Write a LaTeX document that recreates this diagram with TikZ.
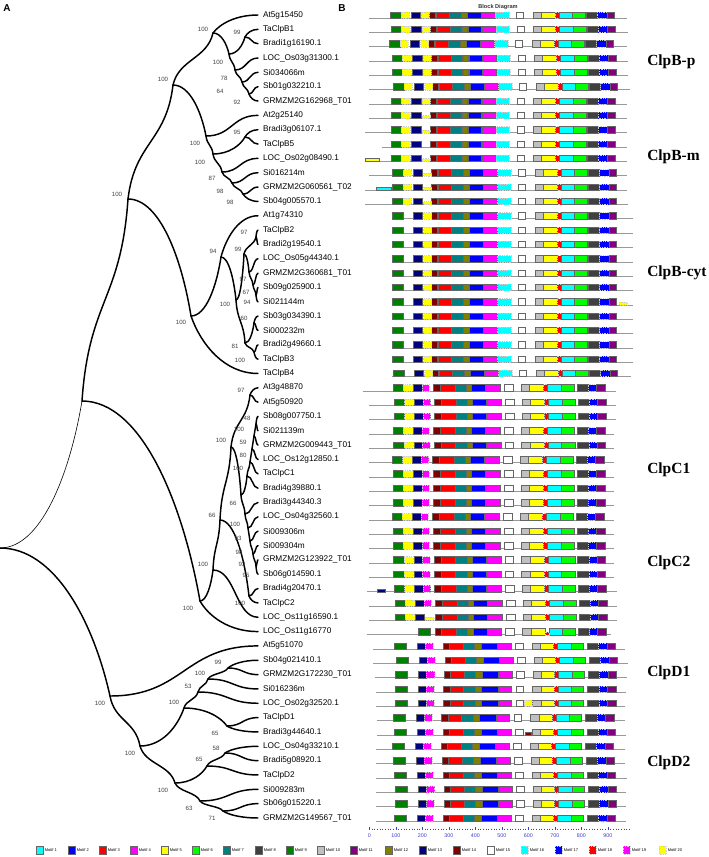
\documentclass[tikz,border=0pt]{standalone}
\usepackage{fontspec}
\setmainfont{Liberation Sans}
\newfontfamily\cladefont{Liberation Serif}
\usepackage{xcolor}
\usetikzlibrary{calc}

% Motif colours
\definecolor{mc1}{HTML}{00FFFF}
\definecolor{mc2}{HTML}{0000FF}
\definecolor{mc3}{HTML}{FF0000}
\definecolor{mc4}{HTML}{FF00FF}
\definecolor{mc5}{HTML}{FFFF00}
\definecolor{mc6}{HTML}{00FF00}
\definecolor{mc7}{HTML}{008080}
\definecolor{mc8}{HTML}{404040}
\definecolor{mc9}{HTML}{008000}
\definecolor{mc10}{HTML}{C0C0C0}
\definecolor{mc11}{HTML}{800080}
\definecolor{mc12}{HTML}{808000}
\definecolor{mc13}{HTML}{000080}
\definecolor{mc14}{HTML}{800000}
\definecolor{axblue}{HTML}{3C3CD0}

\tikzset{
  branch/.style={line width=1.1pt, line cap=round},
  leaf/.style={anchor=west, inner xsep=3.6pt, inner ysep=0pt, font=\fontsize{6.2}{7}\selectfont},
  boot/.style={inner sep=0pt, text=black!75, font=\fontsize{4.6}{5}\selectfont},
  panel/.style={inner sep=0pt, font=\fontsize{7.5}{8}\selectfont\bfseries},
  clade/.style={anchor=west, inner sep=0pt, font=\cladefont\bfseries\fontsize{11.6}{13}\selectfont},
  title/.style={inner sep=0pt, text=black!80, font=\fontsize{4.2}{5}\selectfont\bfseries},
  backbone/.style={draw=black!40, line width=0.7pt},
  mblock/.style={draw=black!60, line width=0.3pt},
  mdot/.style={draw=black!20, densely dotted, line width=0.3pt},
  mot1/.style={mblock, fill=mc1},   mot2/.style={mblock, fill=mc2},
  mot3/.style={mblock, fill=mc3},   mot4/.style={mblock, fill=mc4},
  mot5/.style={mblock, fill=mc5},   mot6/.style={mblock, fill=mc6},
  mot7/.style={mblock, fill=mc7},   mot8/.style={mblock, fill=mc8},
  mot9/.style={mblock, fill=mc9},   mot10/.style={mblock, fill=mc10},
  mot11/.style={mblock, fill=mc11}, mot12/.style={mblock, fill=mc12},
  mot13/.style={mblock, fill=mc13}, mot14/.style={mblock, fill=mc14},
  mot15/.style={mblock, fill=white},
  mot16/.style={mdot, fill=mc1},    mot17/.style={mdot, fill=mc2},
  mot18/.style={mdot, fill=mc3},    mot19/.style={mdot, fill=mc4},
  mot20/.style={mdot, fill=mc5},
  axtick/.style={draw=axblue, line width=0.3pt},
  axlabel/.style={inner sep=0pt, text=axblue, font=\fontsize{4}{5}\selectfont},
  legtext/.style={anchor=west, inner sep=0pt, font=\fontsize{3}{4}\selectfont}
}

% curved branch: #2 steep start, #3 steep end (0 = horizontal)
\newcommand{\tbranch}[5][]{%
  \draw[branch,#1] let \p1=(#4), \p2=(#5) in (\p1)
    .. controls ({\x1+(0.5-0.35*#2)*(\x2-\x1)},{\y1+0.5*#2*(\y2-\y1)})
    and ({\x2-(0.5-0.35*#3)*(\x2-\x1)},{\y2-0.5*#3*(\y2-\y1)}) .. (\p2);}

% motif rows
\newcommand{\mblocks}[3]{%
  \pgfmathsetmacro{\ry}{15+14.339*#1}
  \foreach \mi/\xa/\xb in #3 {\draw[mot\mi] ({\xa+(#2)},\ry-3.2) rectangle ({\xb+(#2)},\ry+3.2);}}
\newcommand{\mrow}[5]{%
  \pgfmathsetmacro{\ry}{15+14.339*#1}
  \draw[backbone] (#3,\ry+3.2) -- (#4,\ry+3.2);
  \mblocks{#1}{#2}{#5}}
\newcommand{\mhalf}[5]{%
  \pgfmathsetmacro{\ry}{15+14.339*#1}
  \draw[mot#3] ({#4+(#2)},\ry+0.2) rectangle ({#5+(#2)},\ry+3.2);}

% templates
\def\coreB{9/390.0/400.7, 13/410.7/420.0, 14/429.3/435.0, 3/436.0/449.3, 7/449.3/460.7, 12/461.3/466.7, 2/467.3/480.7, 4/481.3/494.7, 16/495.3/508.7, 15/516.0/523.3, 10/532.7/540.7, 5/540.7/554.7, 18/554.7/558.7, 1/558.7/572.0, 6/572.0/585.3, 8/586.0/597.3, 17/597.3/606.7, 11/606.7/614.0}
\def\yyB{20/400.7/409.0, 20/421.3/429.3}
\def\yaB{20/400.7/409.0}
\def\ybB{20/421.3/429.3}
\def\allC{9/392.7/403.3, 20/403.3/412.7, 13/413.3/421.7, 19/421.7/429.3, 14/433.3/440.0, 3/440.0/454.7, 7/454.7/466.0, 12/466.0/471.3, 2/471.3/485.3, 4/485.3/500.0, 15/504.0/512.7, 10/520.7/529.3, 5/529.3/543.3, 18/543.3/547.3, 1/547.3/560.7, 6/560.7/574.0, 8/576.7/588.0, 17/588.0/596.0, 11/596.0/604.7}
\def\coreC{14/433.3/440.0, 3/440.0/454.7, 7/454.7/466.0, 12/466.0/471.3, 2/471.3/485.3, 4/485.3/500.0, 15/504.0/512.7, 10/520.7/529.3, 5/529.3/543.3, 18/543.3/547.3, 1/547.3/560.7, 6/560.7/574.0, 8/576.7/588.0, 17/588.0/596.0, 11/596.0/604.7}
\def\coreD{9/394.0/406.0, 13/417.3/425.0, 19/425.0/433.3, 14/442.7/449.3, 3/449.3/462.7, 7/462.7/474.0, 12/474.0/480.7, 2/480.7/497.3, 4/497.3/510.7, 15/515.3/522.7, 10/531.7/540.0, 5/540.0/553.3, 18/553.3/557.3, 1/557.3/570.7, 6/570.7/582.7, 8/586.7/598.0, 17/598.0/606.7, 11/606.7/615.0}

\begin{document}
\begin{tikzpicture}[x=0.75pt,y=-0.75pt]
\useasboundingbox (0,0) rectangle (708,857);

% Panel letters
\node[panel] (pA) at (7,8) {A};
\node[panel] (pB) at (342,8) {B};

% Tree nodes
\foreach \nm/\cx/\cy in {R/0/548, X/82/401, B0/128/199, P0/173/85,
    A1/213/33, A2/229/54, B99/245/37, A78/235/70, A64/242/82, A92/249/94,
    M1/206/136, M2/213/154, M95/245/137, M87/222/172, M98a/232/183, M98b/243/194,
    C0/191/316, C94/221/257, C100b/236/300, C99/244/254, C97a/256/237, C97b/249/272,
    C67/253/285, C94b/256/295, C81/245/343, C60/254/323, C100c/254/352,
    K0/200/601, K1/213/570, K2/220/520, K3/231/447, K97/250/395, K4/241/495,
    N5/247/476, N4/250/462, N3/252/449, N2/254/436, N1/256/424,
    Q5/245/514, Q4/248/528, Q3/250/541, Q2/253/554, Q1/256/566, K100c/249/596,
    D0/110/696, D1/140/746, D2/184/708, D53/198/692, D100/208/679, D99/228/668,
    D65a/227/726, D3/175/783, D65b/207/766, D58/225/753, D63/200/801, D71/223/811}
  {\coordinate (\nm) at (\cx,\cy);}
\foreach \i in {0,...,56} {\coordinate (l\i) at (258,{15+14.339*\i});}

% Branches
\tbranch[line width=0.45pt]{0}{1}{R}{X}
\foreach \s/\e/\pa/\ch in {0/1/R/D0, 1/1/X/B0, 0/1/X/K0, 1/1/B0/P0, 0/1/B0/C0,
    1/1/P0/A1, 0/1/P0/M1, 1/0/A1/l0, 0/1/A1/A2, 0/1/A2/B99, 1/1/A2/A78,
    1/0/B99/l1, 0/0/B99/l2, 0/0/A78/l3, 1/1/A78/A64, 0/0/A64/l4, 1/1/A64/A92,
    0/0/A92/l5, 1/0/A92/l6,
    0/0/M1/l7, 1/1/M1/M2, 0/1/M2/M95, 1/1/M2/M87, 1/0/M95/l8, 0/0/M95/l9,
    0/0/M87/l10, 1/1/M87/M98a, 0/0/M98a/l11, 1/1/M98a/M98b, 0/0/M98b/l12, 1/0/M98b/l13,
    0/1/C0/C94, 1/0/C0/l25, 1/0/C94/l14, 0/1/C94/C100b, 0/1/C100b/C99, 1/1/C100b/C81,
    1/1/C99/C97a, 0/1/C99/C97b, 1/0/C97a/l15, 0/0/C97a/l16, 0/0/C97b/l17, 1/1/C97b/C67,
    0/0/C67/l18, 1/1/C67/C94b, 0/0/C94b/l19, 1/0/C94b/l20, 0/1/C81/C60, 1/1/C81/C100c,
    1/0/C60/l21, 0/0/C60/l22, 0/0/C100c/l23, 1/0/C100c/l24,
    0/1/K0/K1, 1/0/K0/l43, 1/1/K1/K2, 0/0/K1/l42, 1/1/K2/K3, 0/1/K2/K100c,
    1/1/K3/K97, 0/1/K3/K4, 1/0/K97/l26, 0/0/K97/l27, 0/1/K4/N5, 1/1/K4/Q5,
    1/1/N5/N4, 0/0/N5/l33, 1/1/N4/N3, 0/0/N4/l32, 1/1/N3/N2, 0/0/N3/l31,
    1/1/N2/N1, 0/0/N2/l30, 1/0/N1/l28, 0/0/N1/l29,
    0/0/Q5/l34, 1/1/Q5/Q4, 0/0/Q4/l35, 1/1/Q4/Q3, 0/0/Q3/l36, 1/1/Q3/Q2,
    0/0/Q2/l37, 1/1/Q2/Q1, 0/0/Q1/l38, 1/0/Q1/l39, 0/0/K100c/l40, 1/0/K100c/l41,
    0/0/D0/l44, 1/1/D0/D1, 0/1/D1/D2, 1/1/D1/D3, 1/1/D2/D53, 0/1/D2/D65a,
    1/1/D53/D100, 0/0/D53/l48, 1/1/D100/D99, 0/0/D100/l47, 1/0/D99/l45, 0/0/D99/l46,
    0/0/D65a/l49, 1/0/D65a/l50, 0/1/D3/D65b, 1/1/D3/D63, 1/1/D65b/D58, 0/0/D65b/l53,
    1/0/D58/l51, 0/0/D58/l52, 0/0/D63/l54, 1/1/D63/D71, 0/0/D71/l55, 1/0/D71/l56}
  {\tbranch{\s}{\e}{\pa}{\ch}}

% Bootstrap values
\foreach \nm/\bx/\by/\bv in {B0/117/194/100, P0/163/79/100, A1/203/29/100, B99/237/32/99,
    A2/218/62/100, A78/224/78/78, A64/220/91/64, A92/237/102/92,
    M1/195/143/100, M95/237/132/95, M2/200/162/100, M87/212/178/87, M98a/220/191/98, M98b/230/202/98,
    C97a/244/232/97, C99/238/249/99, C94/213/251/94, C97b/243/279/97, C67/246/292/67,
    C94b/247/302/94, C100b/225/304/100, C60/244/318/60, C0/181/322/100, C81/235/346/81, C100c/240/360/100,
    K97/241/390/97, N1/247/418/48, N2/239/429/100, K3/221/440/100, N3/243/442/59, N4/243/455/80,
    N5/238/468/100, K4/233/503/66, K2/212/515/66, Q5/235/524/100, Q4/238/538/93, Q3/239/552/98,
    K1/203/564/100, Q2/242/564/92, Q1/246/575/95, K100c/240/603/100, K0/188/608/100,
    D99/218/662/99, D100/200/673/100, D53/188/686/53, D2/174/702/100, D0/100/703/100,
    D65a/215/733/65, D58/216/748/58, D1/130/753/100, D65b/199/759/65, D3/163/790/100,
    D63/189/808/63, D71/212/818/71}
  {\node[boot] (b\nm) at (\bx,\by) {\bv};}

% Leaf labels
\foreach \nm [count=\i from 0] in {At5g15450, TaClpB1, Bradi1g16190.1, LOC\_Os03g31300.1,
    Si034066m, Sb01g032210.1, GRMZM2G162968\_T01, At2g25140, Bradi3g06107.1, TaClpB5,
    LOC\_Os02g08490.1, Si016214m, GRMZM2G060561\_T02, Sb04g005570.1, At1g74310, TaClpB2,
    Bradi2g19540.1, LOC\_Os05g44340.1, GRMZM2G360681\_T01, Sb09g025900.1, Si021144m,
    Sb03g034390.1, Si000232m, Bradi2g49660.1, TaClpB3, TaClpB4, At3g48870, At5g50920,
    Sb08g007750.1, Si021139m, GRMZM2G009443\_T01, LOC\_Os12g12850.1, TaClpC1, Bradi4g39880.1,
    Bradi3g44340.3, LOC\_Os04g32560.1, Si009306m, Si009304m, GRMZM2G123922\_T01, Sb06g014590.1,
    Bradi4g20470.1, TaClpC2, LOC\_Os11g16590.1, LOC\_Os11g16770, At5g51070, Sb04g021410.1,
    GRMZM2G172230\_T01, Si016236m, LOC\_Os02g32520.1, TaClpD1, Bradi3g44640.1,
    LOC\_Os04g33210.1, Bradi5g08920.1, TaClpD2, Si009283m, Sb06g015220.1, GRMZM2G149567\_T01}
  {\node[leaf] (t\i) at (l\i) {\nm};}

% Block diagram
\node[title] (bd) at (498,7) {Block Diagram};

% ClpB-p
\mrow{0}{0}{369.3}{626.7}{\coreB}\mblocks{0}{0}{\yyB}
\mrow{1}{0.7}{369.3}{628.3}{\coreB}\mblocks{1}{0.7}{\yyB}
\mrow{2}{-0.7}{369.3}{626.7}{\coreB}\mblocks{2}{-0.7}{\yyB}
\mrow{3}{1.7}{369.3}{628.3}{\coreB}\mblocks{3}{1.7}{\yyB}
\mrow{4}{1.7}{369.3}{628.3}{\coreB}\mblocks{4}{1.7}{\yyB}
\mrow{5}{3.3}{369.3}{630}{\coreB}\mblocks{5}{3.3}{\yyB}
\mrow{6}{0.7}{369.3}{626.7}{\coreB}\mblocks{6}{0.7}{\yyB}
% ClpB-m
\mrow{7}{0.7}{369.3}{626.7}{\coreB}\mblocks{7}{0.7}{\yaB}\mhalf{7}{0.7}{20}{421.3}{429.3}
\mrow{8}{0.7}{365}{626.7}{\coreB}\mblocks{8}{0.7}{\yaB}\mhalf{8}{0.7}{20}{421.3}{429.3}
\mrow{9}{0.7}{381.7}{626.7}{\coreB}\mblocks{9}{0.7}{\yaB}
\mrow{10}{0.7}{365}{626.7}{\coreB}\mblocks{10}{0.7}{\yaB}\mhalf{10}{0.7}{20}{421.3}{429.3}\mhalf{10}{0}{5}{365}{379.3}
\mrow{11}{2.3}{369.3}{626.7}{\coreB}\mblocks{11}{2.3}{\yaB}\mhalf{11}{2.3}{20}{421.3}{429.3}
\mrow{12}{2.3}{365}{626.7}{\coreB}\mblocks{12}{2.3}{\yaB}\mhalf{12}{2.3}{20}{421.3}{429.3}\mhalf{12}{0}{1}{376}{390.7}
\mrow{13}{2.3}{365}{628.3}{\coreB}\mblocks{13}{2.3}{\yaB}\mhalf{13}{2.3}{20}{421.3}{429.3}
% ClpB-cyt
\foreach \r in {14,...,24} {\mrow{\r}{2.3}{392}{633}{\coreB}\mblocks{\r}{2.3}{\ybB}}
\mhalf{20}{0}{20}{619.3}{626.7}
\mrow{25}{3.3}{392}{630.7}{\coreB}\mblocks{25}{3.3}{\ybB}
% ClpC
\mrow{26}{0}{363.3}{616}{\allC}
\mrow{27}{1.3}{369.3}{616}{\allC}
\mrow{28}{1.3}{369.3}{616}{\allC}
\foreach \r/\sh in {29/0, 30/0.7, 31/-0.7, 32/0, 33/0, 34/0, 35/-1, 36/0, 37/0, 38/0.7, 39/0.7}
  {\mrow{\r}{\sh}{369.3}{614}{\allC}}
\mrow{40}{1.3}{367.3}{617.3}{\allC}\mhalf{40}{0}{13}{376.7}{385}
\mrow{41}{2}{369.3}{617.3}{\allC}
\mrow{42}{2}{369.3}{616.7}{\coreC}\mblocks{42}{2}{{9/392.7/403.3, 20/403.3/412.7, 13/413.3/421.7}}\mhalf{42}{0}{20}{425}{434}
\mrow{43}{1.5}{367.3}{610.7}{{14/433.3/440.0, 3/440.0/454.7, 7/454.7/466.0, 12/466.0/471.3, 2/471.3/485.3, 4/485.3/500.0, 15/504.0/512.7, 10/520.7/529.3, 5/529.3/543.3, 1/547.3/560.7, 6/560.7/574.0, 8/576.7/588.0, 17/588.0/596.0, 11/596.0/604.7}}
\mblocks{43}{0}{{9/418.3/430}}\mhalf{43}{1.5}{18}{543.3}{547.3}
% ClpD
\foreach \r/\sh/\xs/\xe in {44/0/373.3/625, 45/2/373.3/628.3, 46/1.3/375/626.7, 47/0.7/376/626,
    48/0.7/376/625, 49/-1.3/376.7/625, 50/0/377.3/626, 51/-2/376/625, 52/-1/376/625,
    53/0/376/626.7, 54/1.3/376/626, 55/1/376/626, 56/0/376/626}
  {\mrow{\r}{\sh}{\xs}{\xe}{\coreD}}
\mblocks{48}{0}{{20/524/531.7}}
\mhalf{50}{0}{14}{525}{530.7}

% Clade labels
\node[clade] (cBp) at (647,62) {ClpB-p};
\node[clade] (cBm) at (647,157) {ClpB-m};
\node[clade] (cBc) at (647,273) {ClpB-cyt};
\node[clade] (cC1) at (647,470) {ClpC1};
\node[clade] (cC2) at (647,563) {ClpC2};
\node[clade] (cD1) at (647,673) {ClpD1};
\node[clade] (cD2) at (647,763) {ClpD2};

% Axis
\foreach \t in {0,10,...,980} {\draw[axtick] ({369.3+0.265*\t},828.5) -- ++(0,1.5);}
\foreach \t in {0,100,...,900} {
  \draw[axtick] ({369.3+0.265*\t},827) -- ++(0,3);
  \node[axlabel] (ax\t) at ({369.3+0.265*\t},836) {\t};
}

% Legend
\foreach \k/\lx in {1/36, 2/68, 3/99, 4/130, 5/161, 6/192, 7/223, 8/255, 9/286, 10/317,
    11/350, 12/385, 13/419, 14/453, 15/487, 16/521, 17/555, 18/589, 19/623, 20/659} {
  \draw[mot\k] (\lx,846) rectangle ++(7,8);
  \node[legtext] (leg\k) at (\lx+8.5,850) {Motif \k};
}

\end{tikzpicture}
\end{document}
